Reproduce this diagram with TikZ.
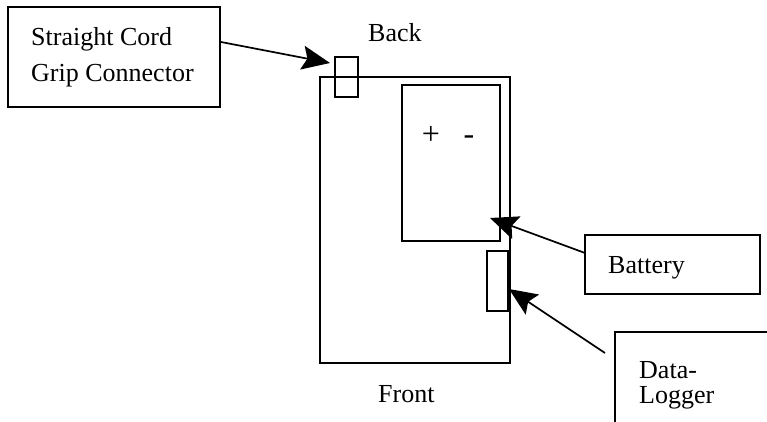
\documentclass[tikz,border=0pt]{standalone}
\usepackage{fontspec}
\setmainfont{Liberation Serif}
\usetikzlibrary{arrows.meta}
\begin{document}
\begin{tikzpicture}[x=1pt,y=-1pt,
  outline/.style={draw=black,line width=1.8pt},
  lbl/.style={anchor=base west,inner sep=0pt,font=\fontsize{26}{30}\selectfont},
  sym/.style={anchor=base,inner sep=0pt,font=\fontsize{32}{36}\selectfont},
  pointer/.style={draw=black,line width=1.7pt,-{Stealth[length=28pt,width=24pt,inset=5pt]}}]
\useasboundingbox (0,0) rectangle (767,422);
\clip (0,0) rectangle (767,422);
% boxes
\draw[outline] (8,7) rectangle (220,107);
\draw[outline] (320,77) rectangle (510,363);
\draw[outline] (335,57) rectangle (358,97);
\draw[outline] (402,85) rectangle (500,241);
\draw[outline] (487,251) rectangle (508,311);
\draw[outline] (585,235) rectangle (760,294);
\draw[outline] (615,332) rectangle (790,440);
% texts
\node[lbl] (t1) at (31,46) {Straight Cord};
\node[lbl] (t2) at (31,82) {Grip Connector};
\node[lbl] (back) at (368,42) {Back};
\node[lbl] (front) at (378,402) {Front};
\node[lbl] (bat) at (608,273) {Battery};
\node[lbl] (d1) at (639,378) {Data-};
\node[lbl] (d2) at (639,403) {Logger};
\node[sym] (plus) at (431,145) {+};
\node[sym] (minus) at (469,145) {-};
% connectors
\coordinate (a1s) at (221,42);
\coordinate (a1e) at (330,63);
\coordinate (a2s) at (585,253);
\coordinate (a2e) at (490,218);
\coordinate (a3s) at (605,353);
\coordinate (a3e) at (509,289);
\draw[pointer] (a1s) -- (a1e);
\draw[pointer] (a2s) -- (a2e);
\draw[pointer] (a3s) -- (a3e);
\end{tikzpicture}
\end{document}
